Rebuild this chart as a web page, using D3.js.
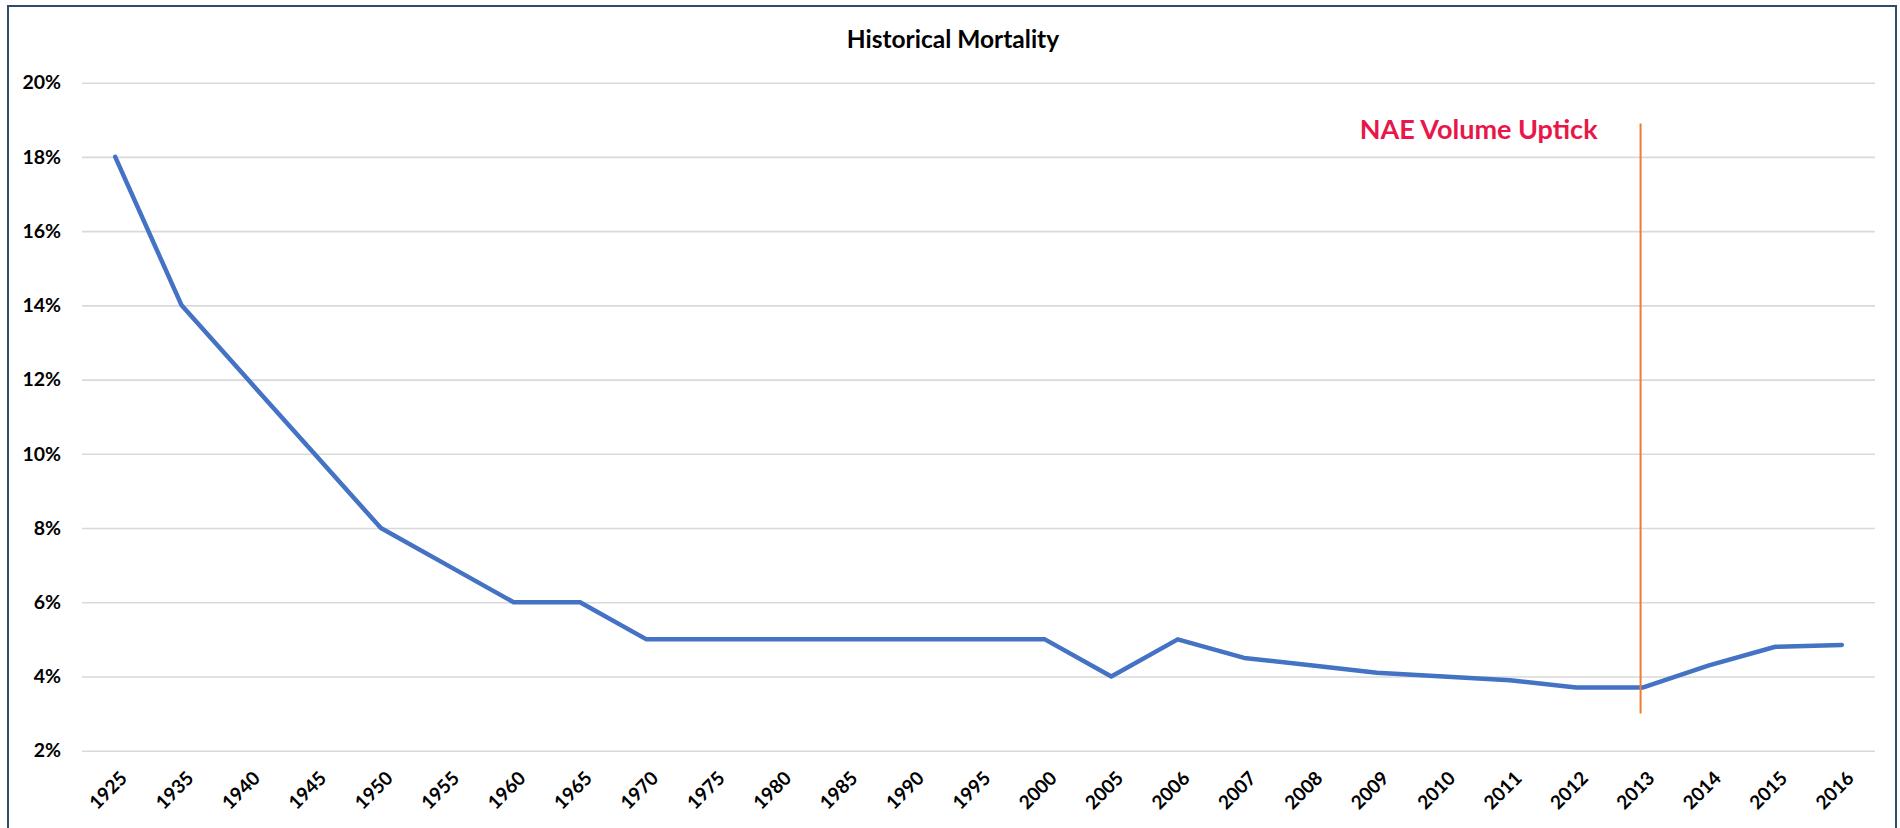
<!DOCTYPE html>
<html>
<head>
<meta charset="utf-8">
<script src="https://cdn.jsdelivr.net/npm/d3@7"></script>
<style>
  html, body { margin: 0; padding: 0; background: #ffffff; }
  svg { display: block; }
  text { font-family: Lato, "Open Sans", "DejaVu Sans", sans-serif; font-weight: 700; }
</style>
</head>
<body>
<svg id="chart" width="1900" height="828"></svg>
<script>
// ---- Data ----
const categories = ["1925","1935","1940","1945","1950","1955","1960","1965","1970","1975","1980","1985","1990","1995","2000","2005","2006","2007","2008","2009","2010","2011","2012","2013","2014","2015","2016"];
const mortality = [0.18,0.14,0.12,0.10,0.08,0.07,0.06,0.06,0.05,0.05,0.05,0.05,0.05,0.05,0.05,0.04,0.05,0.045,0.043,0.041,0.040,0.039,0.037,0.037,0.043,0.048,0.0485];
const yTicks = [0.02,0.04,0.06,0.08,0.10,0.12,0.14,0.16,0.18,0.20];
const title = "Historical Mortality";
const markerCategory = "2013";
const markerRange = [0.030, 0.189];
const markerLabel = "NAE Volume Uptick";

// ---- Layout ----
const svg = d3.select("#chart");
const plot = { left: 82, right: 1875, top: 82.7, bottom: 750.7 };

const x = d3.scalePoint().domain(categories).range([plot.left, plot.right]).padding(0.5);
const y = d3.scaleLinear().domain([0.02, 0.20]).range([plot.bottom, plot.top]);

// Outer frame
svg.append("rect")
  .attr("x", 8).attr("y", 6).attr("width", 1888).attr("height", 840)
  .attr("fill", "none").attr("stroke", "#2D4E6B").attr("stroke-width", 2);

// Title
svg.append("text")
  .attr("x", 953).attr("y", 48)
  .attr("text-anchor", "middle")
  .attr("font-size", 24.5)
  .attr("fill", "#000")
  .text(title);

// Y axis gridlines + labels
const yAxis = d3.axisLeft(y).tickValues(yTicks)
  .tickFormat(d3.format(".0%"))
  .tickSize(-(plot.right - plot.left)).tickPadding(21);
const gy = svg.append("g").attr("transform", `translate(${plot.left},0)`).call(yAxis);
gy.select(".domain").remove();
gy.selectAll(".tick line").attr("stroke", "#D9D9D9").attr("stroke-width", 1.6);
gy.selectAll(".tick text").attr("font-size", 19.5).attr("fill", "#000")
  .style("font-family", "Lato, 'Open Sans', sans-serif").style("font-weight", 700);

// X axis labels (rotated)
const xAxis = d3.axisBottom(x).tickSize(0).tickPadding(0);
const gx = svg.append("g").attr("transform", `translate(0,${plot.bottom})`).call(xAxis);
gx.select(".domain").remove();
gx.selectAll(".tick text")
  .attr("font-size", 19).attr("fill", "#000")
  .style("font-family", "Lato, 'Open Sans', sans-serif").style("font-weight", 700)
  .attr("text-anchor", "end")
  .attr("dy", "0.35em")
  .attr("transform", "translate(8,24) rotate(-45)");

// Series line
const line = d3.line().x((d, i) => x(categories[i])).y(d => y(d));
svg.append("path")
  .datum(mortality)
  .attr("d", line)
  .attr("fill", "none")
  .attr("stroke", "#4472C4")
  .attr("stroke-width", 4.5)
  .attr("stroke-linejoin", "round")
  .attr("stroke-linecap", "round");

// Marker line
svg.append("line")
  .attr("x1", x(markerCategory) - 2).attr("x2", x(markerCategory) - 2)
  .attr("y1", y(markerRange[0])).attr("y2", y(markerRange[1]))
  .attr("stroke", "#ED7D31").attr("stroke-width", 2);

// Marker label
svg.append("text")
  .attr("x", x(markerCategory) - 45).attr("y", 139)
  .attr("text-anchor", "end")
  .attr("font-size", 27)
  .attr("fill", "#E8174A")
  .text(markerLabel);
</script>
</body>
</html>
